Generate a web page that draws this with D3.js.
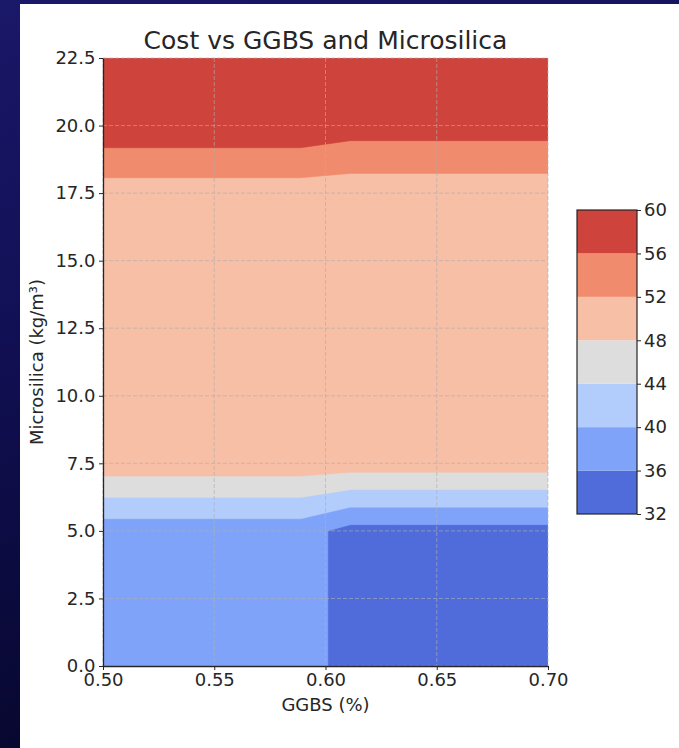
<!DOCTYPE html>
<html><head><meta charset="utf-8">
<script src="https://cdn.jsdelivr.net/npm/d3@7"></script>
<style>
html,body{margin:0;padding:0;background:#0d0c4c;}
svg{display:block;}
text{font-family:"DejaVu Sans",sans-serif;fill:#262626;}
</style></head><body>
<svg id="chart" width="679" height="748"></svg>
<script>
// ---- data ----
const ggbs = [0.5, 0.5222, 0.5444, 0.5667, 0.5889, 0.6111, 0.6333, 0.6556, 0.6778, 0.7];
const microsilica = [0, 2.5, 5, 7.5, 10, 12.5, 15, 17.5, 20, 22.5];
// cost[j][i] : cost at microsilica[j], ggbs[i]
const cost = [
  [37.72, 37.72, 37.72, 37.72, 37.72, 34.58, 34.58, 34.58, 34.58, 34.58],
  [37.72, 37.72, 37.72, 37.72, 37.72, 34.58, 34.58, 34.58, 34.58, 34.58],
  [37.72, 37.72, 37.72, 37.72, 37.72, 34.58, 34.58, 34.58, 34.58, 34.58],
  [50.38, 50.38, 50.38, 50.38, 50.38, 50.04, 50.04, 50.04, 50.04, 50.04],
  [50.30, 50.30, 50.30, 50.30, 50.30, 49.90, 49.90, 49.90, 49.90, 49.90],
  [50.20, 50.20, 50.20, 50.20, 50.20, 49.80, 49.80, 49.80, 49.80, 49.80],
  [50.10, 50.10, 50.10, 50.10, 50.10, 49.70, 49.70, 49.70, 49.70, 49.70],
  [49.95, 49.95, 49.95, 49.95, 49.95, 49.59, 49.59, 49.59, 49.59, 49.59],
  [58.96, 58.96, 58.96, 58.96, 58.96, 57.85, 57.85, 57.85, 57.85, 57.85],
  [58.50, 58.50, 58.50, 58.50, 58.50, 58.20, 58.20, 58.20, 58.20, 58.20]
];
const levels = [32, 36, 40, 44, 48, 52, 56, 60];
const bandColors = ["#506cda", "#80a3fa", "#b2ccfb", "#dddddd", "#f6bfa6", "#f08b6d", "#ce433b"];
const xTicks = [0.50, 0.55, 0.60, 0.65, 0.70];
const yTicks = [0, 2.5, 5, 7.5, 10, 12.5, 15, 17.5, 20, 22.5];
const titleText = "Cost vs GGBS and Microsilica";
const xLabel = "GGBS (%)";
const yLabel = "Microsilica (kg/m³)";

// ---- layout ----
const svg = d3.select("#chart");
const defs = svg.append("defs");
const bg = defs.append("linearGradient").attr("id", "bg").attr("x1", 0).attr("y1", 0).attr("x2", 0.2).attr("y2", 1);
bg.append("stop").attr("offset", "0%").attr("stop-color", "#1a1868");
bg.append("stop").attr("offset", "40%").attr("stop-color", "#121056");
bg.append("stop").attr("offset", "100%").attr("stop-color", "#07072e");
svg.append("rect").attr("width", 679).attr("height", 748).attr("fill", "url(#bg)");
svg.append("rect").attr("x", 20).attr("y", 4).attr("width", 659).attr("height", 744).attr("fill", "#ffffff");

const plot = {left: 103, right: 548, top: 58, bottom: 666};
const x = d3.scaleLinear().domain([ggbs[0], ggbs[ggbs.length - 1]]).range([plot.left, plot.right]);
const y = d3.scaleLinear().domain([microsilica[0], microsilica[microsilica.length - 1]]).range([plot.bottom, plot.top]);

defs.append("clipPath").attr("id", "plotclip").append("rect")
  .attr("x", plot.left).attr("y", plot.top)
  .attr("width", plot.right - plot.left).attr("height", plot.bottom - plot.top);

// contours
const nx = ggbs.length, ny = microsilica.length;
const values = [];
for (let j = 0; j < ny; j++) for (let i = 0; i < nx; i++) values.push(cost[j][i]);
const gridX = d3.scaleLinear().domain([0.5, nx - 0.5]).range([ggbs[0], ggbs[nx - 1]]);
const gridY = d3.scaleLinear().domain([0.5, ny - 0.5]).range([microsilica[0], microsilica[ny - 1]]);
const contourGen = d3.contours().size([nx, ny]).thresholds(levels.slice(0, -1));
const bands = contourGen(values);
const proj = d3.geoTransform({
  point(px, py) { this.stream.point(x(gridX(px)), y(gridY(py))); }
});
const path = d3.geoPath(proj);
svg.append("g").attr("clip-path", "url(#plotclip)")
  .selectAll("path").data(bands).join("path")
  .attr("d", path)
  .attr("fill", (d, i) => bandColors[i])
  .attr("stroke", (d, i) => bandColors[i]).attr("stroke-width", 0.5);

// grid
const grid = svg.append("g").attr("stroke", "#b0b0b0").attr("stroke-opacity", 0.7)
  .attr("stroke-width", 0.9).attr("stroke-dasharray", "4,2");
grid.selectAll("line.v").data(xTicks).join("line").attr("class", "v")
  .attr("x1", d => x(d)).attr("x2", d => x(d)).attr("y1", plot.top).attr("y2", plot.bottom);
grid.selectAll("line.h").data(yTicks).join("line").attr("class", "h")
  .attr("y1", d => y(d)).attr("y2", d => y(d)).attr("x1", plot.left).attr("x2", plot.right);

// axes
const xAxis = svg.append("g").attr("transform", `translate(0,${plot.bottom})`)
  .call(d3.axisBottom(x).tickValues(xTicks).tickFormat(d3.format(".2f")).tickSize(4).tickSizeOuter(0).tickPadding(3));
const yAxis = svg.append("g").attr("transform", `translate(${plot.left},0)`)
  .call(d3.axisLeft(y).tickValues(yTicks).tickFormat(d3.format(".1f")).tickSize(4).tickSizeOuter(0).tickPadding(3.5));
[xAxis, yAxis].forEach(a => {
  a.select(".domain").attr("stroke", "#262626").attr("stroke-width", 1.3);
  a.selectAll(".tick line").attr("stroke", "#262626").attr("stroke-width", 1);
  a.selectAll(".tick text").attr("font-size", "18px").attr("font-family", "DejaVu Sans").style("fill", "#262626");
  a.attr("font-family", null).attr("font-size", null);
});

// labels
svg.append("text").attr("x", (plot.left + plot.right) / 2).attr("y", 49)
  .attr("text-anchor", "middle").attr("font-size", "25px").text(titleText);
svg.append("text").attr("x", (plot.left + plot.right) / 2).attr("y", 711)
  .attr("text-anchor", "middle").attr("font-size", "18px").text(xLabel);
svg.append("text").attr("transform", `translate(43,${(plot.top + plot.bottom) / 2}) rotate(-90)`)
  .attr("text-anchor", "middle").attr("font-size", "18px").text(yLabel);

// colorbar
const cb = {left: 577, right: 637, top: 210, bottom: 514};
const cbY = d3.scaleLinear().domain([levels[0], levels[levels.length - 1]]).range([cb.bottom, cb.top]);
const cbg = svg.append("g");
cbg.selectAll("rect").data(d3.pairs(levels)).join("rect")
  .attr("x", cb.left).attr("width", cb.right - cb.left)
  .attr("y", d => cbY(d[1])).attr("height", d => cbY(d[0]) - cbY(d[1]))
  .attr("fill", (d, i) => bandColors[i]);
cbg.append("rect").attr("x", cb.left).attr("y", cb.top).attr("width", cb.right - cb.left)
  .attr("height", cb.bottom - cb.top).attr("fill", "none").attr("stroke", "#262626").attr("stroke-width", 1.2);
const cbAxis = svg.append("g").attr("transform", `translate(${cb.right},0)`)
  .call(d3.axisRight(cbY).tickValues(levels).tickFormat(d3.format("d")).tickSize(4).tickPadding(3));
cbAxis.select(".domain").remove();
cbAxis.selectAll(".tick line").attr("stroke", "#262626");
cbAxis.selectAll(".tick text").attr("font-size", "18px").style("fill", "#262626");
cbAxis.attr("font-family", null).attr("font-size", null);
</script>
</body></html>
